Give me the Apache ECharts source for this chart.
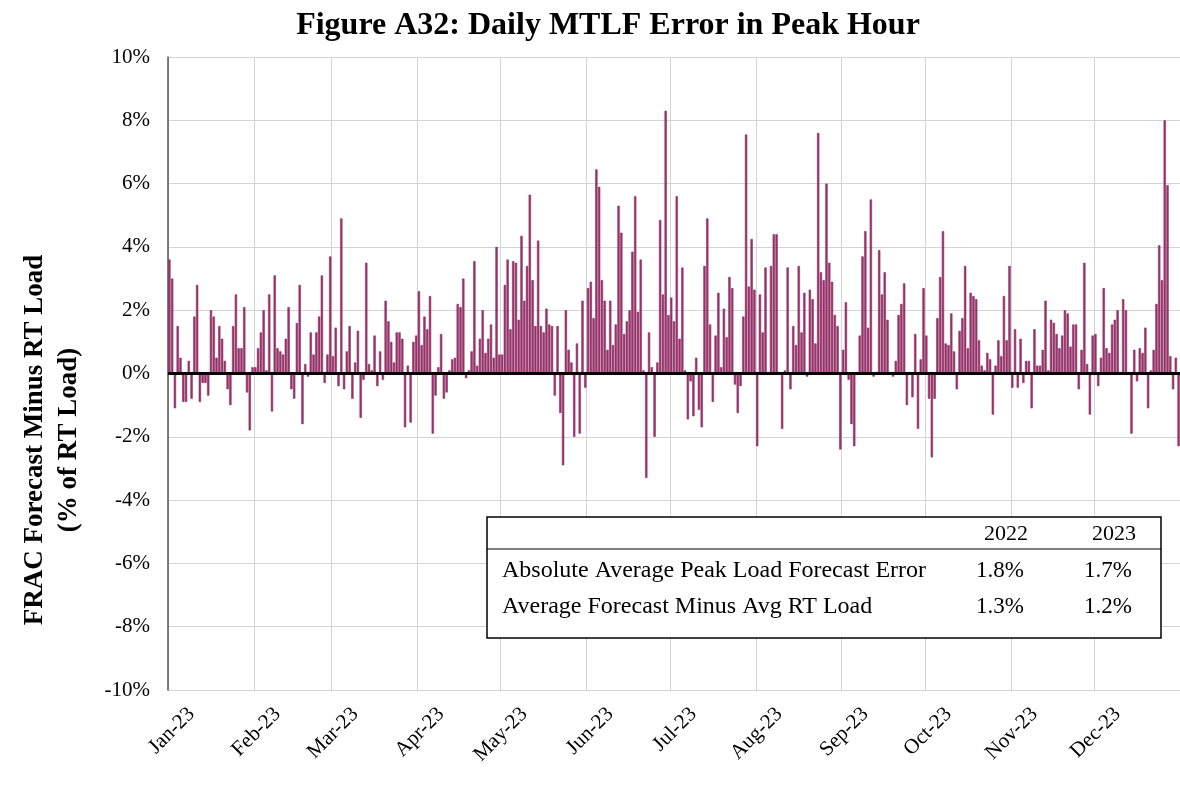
<!DOCTYPE html>
<html>
<head>
<meta charset="utf-8">
<script src="https://cdn.jsdelivr.net/npm/echarts@6/dist/echarts.min.js"></script>
<style>
  html, body { margin: 0; padding: 0; background: #fff; }
  #chart { width: 1180px; height: 790px; }
</style>
</head>
<body>
<div id="chart"></div>
<script>
// month tick labels
const monthLabels = ['Jan-23', 'Feb-23', 'Mar-23', 'Apr-23', 'May-23', 'Jun-23',
  'Jul-23', 'Aug-23', 'Sep-23', 'Oct-23', 'Nov-23', 'Dec-23']

// daily peak-hour MTLF error (%), one array per month
const jan = [3.6, 3.0, -1.1, 1.5, 0.5, -0.9, -0.9, 0.4, -0.8, 1.8, 2.8, -0.9, -0.3, -0.3, -0.7, 2.0,
  1.8, 0.5, 1.5, 1.1, 0.4, -0.5, -1.0, 1.5, 2.5, 0.8, 0.8, 2.1, -0.6, -1.8, 0.2]
const feb = [0.2, 0.8, 1.3, 2.0, 0.1, 2.5, -1.2, 3.1, 0.8, 0.7, 0.6, 1.1, 2.1, -0.5, -0.8, 1.6,
  2.8, -1.6, 0.3, -0.1, 1.3, 0.6, 1.3, 1.8, 3.1, -0.3, 0.6, 3.7]
const mar = [0.55, 1.45, -0.4, 4.9, -0.5, 0.7, 1.5, -0.8, 0.35, 1.35, -1.4, -0.2, 3.5, 0.3, 0.1, 1.2,
  -0.4, 0.7, -0.2, 2.3, 1.65, 1.0, 0.35, 1.3, 1.3, 1.1, -1.7, 0.25, -1.55, 1.0, 1.2]
const apr = [2.6, 0.9, 1.8, 1.4, 2.45, -1.9, -0.7, 0.2, 1.25, -0.8, -0.6, 0.1, 0.45, 0.5, 2.2,
  2.1, 3.0, -0.15, 0.1, 0.7, 3.55, 0.25, 1.1, 2.0, 0.65, 1.1, 1.55, 0.5, 4.0, 0.6]
const may = [0.6, 2.8, 3.6, 1.4, 3.55, 3.5, 1.7, 4.35, 2.3, 3.4, 5.65, 2.95, 1.5, 4.2, 1.5, 1.3,
  2.05, 1.55, 1.5, -0.7, 1.5, -1.25, -2.9, 2.0, 0.75, 0.35, -2.0, 0.95, -1.9, 2.3, -0.45]
const jun = [2.7, 2.9, 1.75, 6.45, 5.9, 2.95, 2.3, 0.75, 2.3, 0.9, 1.55, 5.3, 4.45, 1.25, 1.65,
  2.0, 3.85, 5.6, 1.95, 3.6, 0.1, -3.3, 1.3, 0.2, -2.0, 0.35, 4.85, 2.5, 8.3, 1.85]
const jul = [2.4, 1.65, 5.6, 1.1, 3.35, 0.1, -1.45, -0.25, -1.35, 0.5, -1.15, -1.7, 3.4, 4.9, 1.55,
  -0.9, 1.2, 2.55, 0.2, 2.05, 1.15, 3.05, 2.7, -0.35, -1.25, -0.4, 1.8, 7.55, 2.75, 4.25, 2.65]
const aug = [-2.3, 2.5, 1.3, 3.35, 0.05, 3.4, 4.4, 4.4, 0.05, -1.75, 0.1, 3.35, -0.5, 1.5, 0.9, 3.4,
  1.3, 2.55, -0.1, 2.65, 2.35, 0.95, 7.6, 3.2, 2.95, 6.0, 3.5, 2.9, 1.85, 1.5, -2.4]
const sep = [0.75, 2.25, -0.2, -1.6, -2.3, 0.05, 1.2, 3.7, 4.5, 1.45, 5.5, -0.1, 0.05, 3.9, 2.5,
  3.2, 1.7, 0.05, -0.1, 0.4, 1.85, 2.2, 2.85, -1.0, 0.05, -0.75, 1.25, -1.75, 0.45, 2.7]
const oct = [1.2, -0.8, -2.65, -0.8, 1.75, 3.05, 4.5, 0.95, 0.9, 1.9, 0.7, -0.5, 1.35, 1.75, 3.4,
  0.8, 2.55, 2.45, 2.35, 1.05, 0.25, 0.1, 0.65, 0.45, -1.3, 0.25, 1.05, 0.55, 2.45, 1.05, 3.4]
const nov = [-0.45, 1.4, -0.45, 1.1, -0.3, 0.4, 0.4, -1.1, 1.4, 0.25, 0.25, 0.75, 2.3, 0.1, 1.7,
  1.6, 1.25, 0.8, 1.2, 2.0, 1.9, 0.85, 1.55, 1.55, -0.5, 0.75, 3.5, 0.3, -1.3, 1.2]
const dec = [1.25, -0.4, 0.5, 2.7, 0.8, 0.65, 1.55, 1.7, 2.0, 0.05, 2.35, 2.0, 0.05, -1.9, 0.75,
  -0.25, 0.8, 0.65, 1.45, -1.1, 0.1, 0.75, 2.2, 4.05, 2.95, 8.0, 5.95, 0.55, -0.5, 0.5, -2.3]

// summary table
const tableYears = ['2022', '2023']
const tableRows = [
  ['Absolute Average Peak Load Forecast Error', '1.8%', '1.7%'],
  ['Average Forecast Minus Avg RT Load', '1.3%', '1.2%']
]

const months = [jan, feb, mar, apr, may, jun, jul, aug, sep, oct, nov, dec]
const days = []
const errors = []
const monthStart = {}   // index of first day -> month label
const labelAt = {}      // labels sit a few days right of the gridline, like the original
months.forEach((m, mi) => {
  monthStart[days.length] = monthLabels[mi]
  labelAt[days.length + 8] = monthLabels[mi]
  m.forEach((v, di) => {
    days.push('2023-' + String(mi + 1).padStart(2, '0') + '-' + String(di + 1).padStart(2, '0'))
    errors.push(v)
  })
})
const isMonthStart = (idx) => monthStart[idx] !== undefined
const isLabel = (idx) => labelAt[idx] !== undefined

const serif = '"Liberation Serif", "Times New Roman", serif'
const chart = echarts.init(document.getElementById('chart'))

// y axis title sits a bit below the plot middle in the original
const graphic = [
  { type: 'text', x: 52, y: 440, rotation: Math.PI / 2, z: 50,
    style: { text: 'FRAC Forecast Minus RT Load\n(% of RT Load)', font: 'bold 27px ' + serif,
      fill: '#000', align: 'center', verticalAlign: 'middle', lineHeight: 34 } }
]

// table graphic
const tbl = { x: 487, y: 517, w: 674, h: 121 }
graphic.push(
  { type: 'rect', shape: { x: tbl.x, y: tbl.y, width: tbl.w, height: tbl.h },
    style: { fill: '#fff', stroke: '#000', lineWidth: 1.5 }, z: 100 },
  { type: 'line', shape: { x1: tbl.x, y1: 549, x2: tbl.x + tbl.w, y2: 549 },
    style: { stroke: '#000', lineWidth: 1.2 }, z: 101 }
)
const colX = [1006, 1114]
tableYears.forEach((t, i) => graphic.push({
  type: 'text', x: colX[i], y: 534, z: 102,
  style: { text: t, font: '22px ' + serif, fill: '#000', align: 'center', verticalAlign: 'middle' }
}))
tableRows.forEach((r, ri) => {
  const yy = 571 + ri * 36
  graphic.push({ type: 'text', x: 502, y: yy, z: 102,
    style: { text: r[0], font: '24px ' + serif, fill: '#000', align: 'left', verticalAlign: 'middle' } })
  r.slice(1).forEach((v, ci) => graphic.push({ type: 'text', x: colX[ci] - 6, y: yy, z: 102,
    style: { text: v, font: '23px ' + serif, fill: '#000', align: 'center', verticalAlign: 'middle' } }))
})

chart.setOption({
  animation: false,
  backgroundColor: '#fff',
  title: {
    text: 'Figure A32: Daily MTLF Error in Peak Hour',
    left: 603, top: 5, textAlign: 'center',
    textStyle: { fontFamily: serif, fontSize: 32, fontWeight: 'bold', color: '#000' }
  },
  grid: { left: 168, right: 0, top: 57, bottom: 100, outerBoundsMode: 'none' },
  xAxis: {
    type: 'category',
    data: days,
    boundaryGap: true,
    axisLine: { show: true, lineStyle: { color: '#555', width: 1.5 } },
    axisTick: { show: false },
    splitLine: { show: true, interval: isMonthStart, lineStyle: { color: '#d4d4d4', width: 1 } },
    axisLabel: {
      interval: isLabel,
      formatter: (val, idx) => labelAt[idx] || '',
      rotate: 45, margin: 21,
      fontFamily: serif, fontSize: 21, color: '#000'
    }
  },
  yAxis: {
    type: 'value',
    min: -10, max: 10, interval: 2,
    axisLine: { show: true, lineStyle: { color: '#555', width: 1.5 } },
    axisTick: { show: false },
    splitLine: { show: true, lineStyle: { color: '#d4d4d4', width: 1 } },
    axisLabel: { formatter: '{value}%', fontFamily: serif, fontSize: 21, color: '#000', margin: 18 }
  },
  series: [{
    type: 'bar',
    data: errors,
    barCategoryGap: '15%',
    itemStyle: { color: '#a0306c', borderColor: '#8a3464', borderWidth: 0.6 },
    markLine: {
      silent: true, symbol: 'none', label: { show: false },
      lineStyle: { color: '#000', width: 3, type: 'solid' },
      data: [{ yAxis: 0 }]
    }
  }],
  graphic: graphic
})
</script>
</body>
</html>
